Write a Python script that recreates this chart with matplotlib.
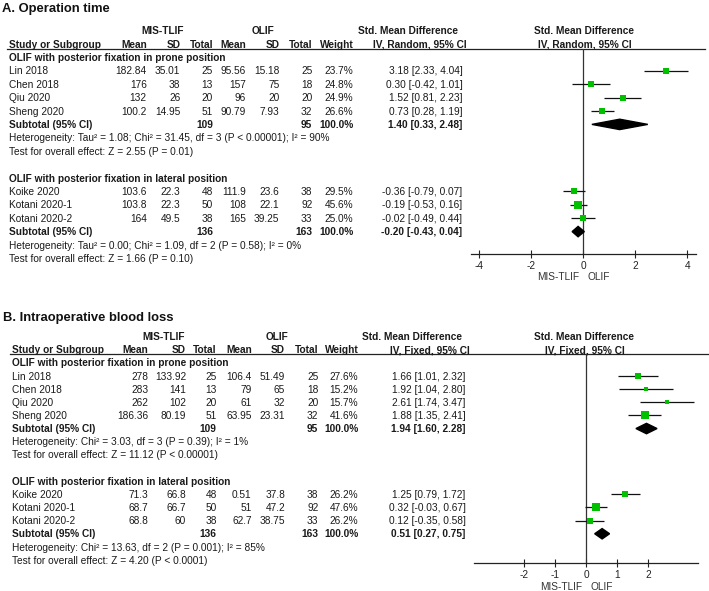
import numpy as np
import matplotlib.pyplot as plt
from matplotlib.patches import Polygon

plt.rcParams['font.family'] = ['Liberation Sans', 'DejaVu Sans']

W, H = 709, 591
FS = 7.25
TXT = "#1a1a1a"
GREEN = "#00c000"

GROUPS = ["OLIF with posterior fixation in prone position",
          "OLIF with posterior fixation in lateral position"]
STUDIES = ["Lin 2018", "Chen 2018", "Qiu 2020", "Sheng 2020",
           "Koike 2020", "Kotani 2020-1", "Kotani 2020-2"]
STUDY_GROUP = [0, 0, 0, 0, 1, 1, 1]
MIS_N = [25, 13, 20, 51, 48, 50, 38]
OLIF_N = [25, 18, 20, 32, 38, 92, 33]
SUB_MIS_N = [109, 136]
SUB_OLIF_N = [95, 163]

# A. Operation time
A_mis_mean = [182.84, 176, 132, 100.2, 103.6, 103.8, 164]
A_mis_sd = [35.01, 38, 26, 14.95, 22.3, 22.3, 49.5]
A_olif_mean = [95.56, 157, 96, 90.79, 111.9, 108, 165]
A_olif_sd = [15.18, 75, 20, 7.93, 23.6, 22.1, 39.25]
A_weight = [23.7, 24.8, 24.9, 26.6, 29.5, 45.6, 25.0]
A_smd = [3.18, 0.30, 1.52, 0.73, -0.36, -0.19, -0.02]
A_lo = [2.33, -0.42, 0.81, 0.28, -0.79, -0.53, -0.49]
A_hi = [4.04, 1.01, 2.23, 1.19, 0.07, 0.16, 0.44]
A_sub_smd = [1.40, -0.20]
A_sub_lo = [0.33, -0.43]
A_sub_hi = [2.48, 0.04]
A_het = ["Heterogeneity: Tau² = 1.08; Chi² = 31.45, df = 3 (P < 0.00001); I² = 90%",
         "Heterogeneity: Tau² = 0.00; Chi² = 1.09, df = 2 (P = 0.58); I² = 0%"]
A_test = ["Test for overall effect: Z = 2.55 (P = 0.01)",
          "Test for overall effect: Z = 1.66 (P = 0.10)"]

# B. Intraoperative blood loss
B_mis_mean = [278, 283, 262, 186.36, 71.3, 68.7, 68.8]
B_mis_sd = [133.92, 141, 102, 80.19, 66.8, 66.7, 60]
B_olif_mean = [106.4, 79, 61, 63.95, 0.51, 51, 62.7]
B_olif_sd = [51.49, 65, 32, 23.31, 37.8, 47.2, 38.75]
B_weight = [27.6, 15.2, 15.7, 41.6, 26.2, 47.6, 26.2]
B_smd = [1.66, 1.92, 2.61, 1.88, 1.25, 0.32, 0.12]
B_lo = [1.01, 1.04, 1.74, 1.35, 0.79, -0.03, -0.35]
B_hi = [2.32, 2.80, 3.47, 2.41, 1.72, 0.67, 0.58]
B_sub_smd = [1.94, 0.51]
B_sub_lo = [1.60, 0.27]
B_sub_hi = [2.28, 0.75]
B_het = ["Heterogeneity: Chi² = 3.03, df = 3 (P = 0.39); I² = 1%",
         "Heterogeneity: Chi² = 13.63, df = 2 (P = 0.001); I² = 85%"]
B_test = ["Test for overall effect: Z = 11.12 (P < 0.00001)",
          "Test for overall effect: Z = 4.20 (P < 0.0001)"]

A_TICKS = [-4, -2, 0, 2, 4]
B_TICKS = [-2, -1, 0, 1, 2]

# pixel layout of each panel
LAY_A = dict(title="A. Operation time", title_x=2, title_y=7.0, y0=30.6, dy=13.4,
             x_name=9, rule=(7, 705, 48.5),
             cols=[146.7, 180.3, 213, 246, 279.3, 312.3, 353.3, 462.3],
             mis_hdr=162.5, olif_hdr=263.3, smd_hdr=408.3, ci_hdr=419.5,
             method="IV, Random, 95% CI", plot_x=(470.7, 695.9), axis_y=254, lim=4.33)
LAY_B = dict(title="B. Intraoperative blood loss", title_x=3, title_y=316.7, y0=336.5, dy=13.15,
             x_name=12.3, rule=(10, 708, 353.5),
             cols=[148.3, 186, 216.7, 251.7, 285, 318.3, 358.3, 465.7],
             mis_hdr=164, olif_hdr=277.5, smd_hdr=412, ci_hdr=430,
             method="IV, Fixed, 95% CI", plot_x=(474.3, 698.3), axis_y=563.3, lim=3.61)


def put(bg, x, y, s, ha="left", bold=False, size=FS, color=TXT):
    # y is the visual centre of the caps; shift to baseline
    off = size * 100 / 72 * 0.716 / 2
    bg.text(x, y + off, s, ha=ha, va="baseline", fontsize=size,
            fontweight="bold" if bold else "normal", color=color)


def draw_panel(fig, bg, lay, mis_mean, mis_sd, olif_mean, olif_sd, weight,
               smd, lo, hi, sub_smd, sub_lo, sub_hi, het, test, ticks):
    y0, dy = lay["y0"], lay["dy"]
    ry = lambda r: y0 + dy * r
    c = lay["cols"]

    put(bg, lay["title_x"], lay["title_y"], lay["title"], bold=True, size=9.4, color="#111111")
    put(bg, lay["mis_hdr"], ry(0), "MIS-TLIF", ha="center", bold=True)
    put(bg, lay["olif_hdr"], ry(0), "OLIF", ha="center", bold=True)
    put(bg, lay["smd_hdr"], ry(0), "Std. Mean Difference", ha="center", bold=True)
    put(bg, 584, ry(0), "Std. Mean Difference", ha="center", bold=True)
    put(bg, lay["x_name"], ry(1), "Study or Subgroup", bold=True)
    for x, s in zip(c[:7], ["Mean", "SD", "Total", "Mean", "SD", "Total", "Weight"]):
        put(bg, x, ry(1), s, ha="right", bold=True)
    put(bg, lay["ci_hdr"], ry(1), lay["method"], ha="center", bold=True)
    put(bg, 585, ry(1), lay["method"], ha="center", bold=True)
    x1, x2, yr = lay["rule"]
    bg.plot([x1, x2], [yr, yr], color="#222222", lw=0.9)

    # forest axes
    px0, px1 = lay["plot_x"]
    ay = lay["axis_y"]
    ax = fig.add_axes([px0 / W, 1 - ay / H, (px1 - px0) / W, (ay - yr) / H])
    ax.set_xlim(-lay["lim"], lay["lim"])
    ax.set_ylim((ay - y0) / dy, (yr - y0) / dy)
    ax.patch.set_alpha(0)
    for sp in ["top", "left", "right"]:
        ax.spines[sp].set_visible(False)
    ax.spines["bottom"].set_linewidth(0.9)
    ax.spines["bottom"].set_color("#222222")
    ax.set_yticks([])
    ax.set_xticks(ticks)
    ax.set_xticklabels([f"{t:d}" for t in ticks])
    ax.tick_params(axis="x", direction="inout", length=6, width=0.8,
                   labelsize=FS, pad=2, colors="#222222")
    ax.axvline(0, color="#333333", lw=0.9)

    zero_px = px0 + (px1 - px0) / 2
    put(bg, zero_px - 4.5, ay + 22.7, "MIS-TLIF", ha="right", color="#333333")
    put(bg, zero_px + 4.3, ay + 22.7, "OLIF", color="#333333")

    h = 5.2 / dy
    for g in range(2):
        r = 2 + 9 * g
        put(bg, lay["x_name"], ry(r), GROUPS[g], bold=True)
        r += 1
        idx = [k for k in range(len(STUDIES)) if STUDY_GROUP[k] == g]
        for k in idx:
            vals = [f"{mis_mean[k]:g}", f"{mis_sd[k]:g}", f"{MIS_N[k]}",
                    f"{olif_mean[k]:g}", f"{olif_sd[k]:g}", f"{OLIF_N[k]}",
                    f"{weight[k]:.1f}%",
                    f"{smd[k]:.2f} [{lo[k]:.2f}, {hi[k]:.2f}]"]
            put(bg, lay["x_name"], ry(r), STUDIES[k])
            for x, s in zip(c, vals):
                put(bg, x, ry(r), s, ha="right")
            ax.hlines(r, lo[k], hi[k], color="#111111", lw=0.9)
            ax.scatter([smd[k]], [r], marker="s", s=0.68 * weight[k],
                       color=GREEN, linewidths=0, zorder=3)
            r += 1
        put(bg, lay["x_name"], ry(r), "Subtotal (95% CI)", bold=True)
        put(bg, c[2], ry(r), f"{SUB_MIS_N[g]}", ha="right", bold=True)
        put(bg, c[5], ry(r), f"{SUB_OLIF_N[g]}", ha="right", bold=True)
        put(bg, c[6], ry(r), "100.0%", ha="right", bold=True)
        put(bg, c[7], ry(r), f"{sub_smd[g]:.2f} [{sub_lo[g]:.2f}, {sub_hi[g]:.2f}]",
            ha="right", bold=True)
        ax.add_patch(Polygon([(sub_lo[g], r), (sub_smd[g], r - h),
                              (sub_hi[g], r), (sub_smd[g], r + h)],
                             closed=True, color="black", zorder=3))
        put(bg, lay["x_name"], ry(r + 1), het[g])
        put(bg, lay["x_name"], ry(r + 2), test[g])


fig = plt.figure(figsize=(W / 100, H / 100), dpi=100)
bg = fig.add_axes([0, 0, 1, 1])
bg.set_xlim(0, W)
bg.set_ylim(H, 0)
bg.axis("off")

draw_panel(fig, bg, LAY_A, A_mis_mean, A_mis_sd, A_olif_mean, A_olif_sd, A_weight,
           A_smd, A_lo, A_hi, A_sub_smd, A_sub_lo, A_sub_hi, A_het, A_test, A_TICKS)
draw_panel(fig, bg, LAY_B, B_mis_mean, B_mis_sd, B_olif_mean, B_olif_sd, B_weight,
           B_smd, B_lo, B_hi, B_sub_smd, B_sub_lo, B_sub_hi, B_het, B_test, B_TICKS)

fig.savefig("out.png", dpi=100)
